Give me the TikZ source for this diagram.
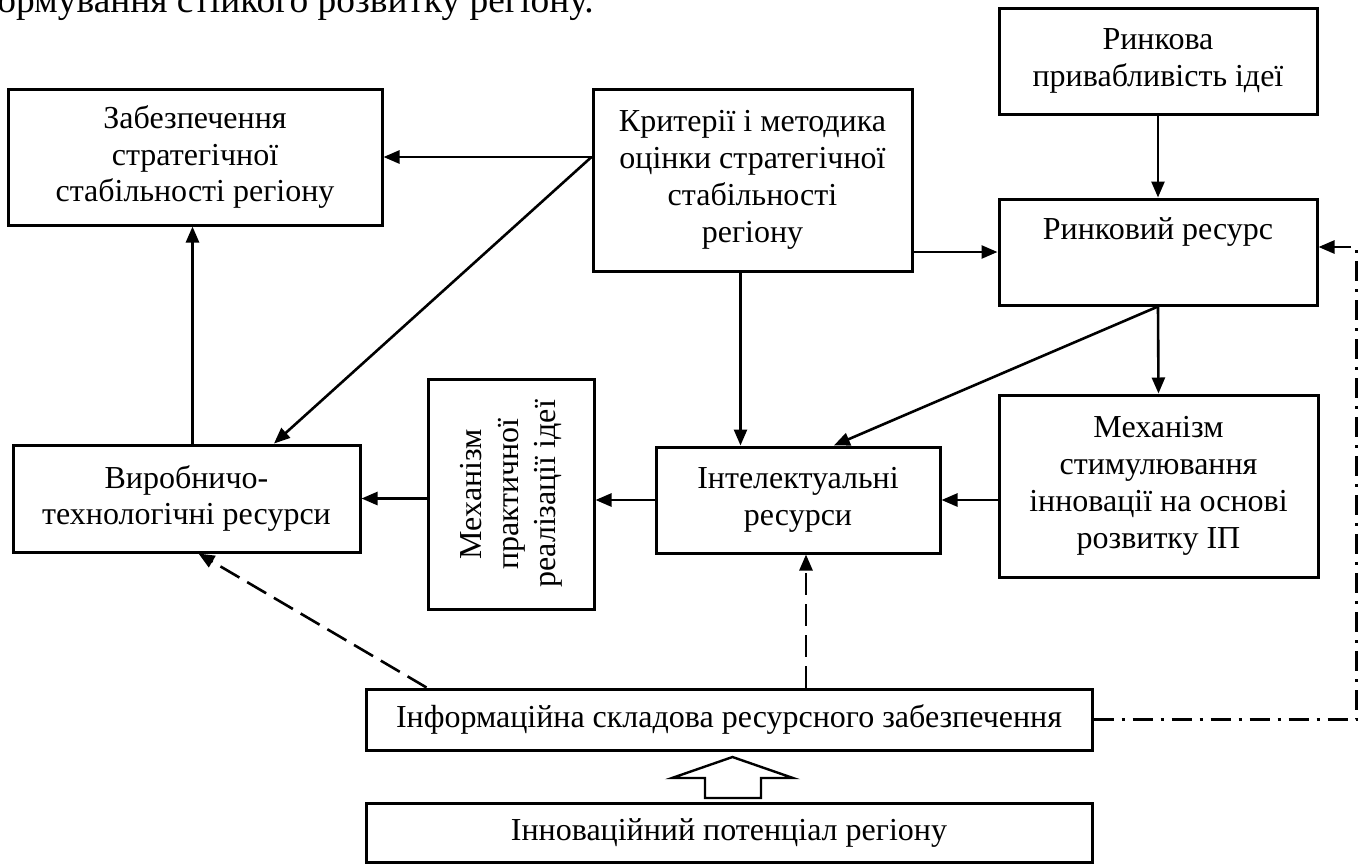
\documentclass[tikz,border=0pt]{standalone}
\usepackage{fontspec}
\setmainfont{Liberation Serif}
\usepackage{tikz}
\usetikzlibrary{arrows.meta,calc}

\tikzset{
  kasten/.style={draw, line width=1.5pt, align=center, inner sep=2pt},
  pfeil/.style={line width=1.3pt, -{Triangle[length=8pt,width=6.5pt]}},
  strich/.style={pfeil, dash pattern=on 11pt off 4.5pt},
  strichpunkt/.style={pfeil, dash pattern=on 10pt off 4pt on 1.5pt off 4pt},
}

\begin{document}
\begin{tikzpicture}[x=0.5pt, y=-0.5pt, font=\fontsize{16}{18.4}\selectfont]
        \useasboundingbox (0,0) rectangle (1362,864);

        % Textzeile oben (abgeschnitten)
        \node[anchor=base west, inner sep=0pt, font=\fontsize{18.7}{21.5}\selectfont] (kopf) at (-3,12.5) {ормування стійкого розвитку регіону.};

        % Kästen
        \node[kasten, minimum width=187pt, minimum height=68pt] (zab) at (195,157) {Забезпечення\\стратегічної\\стабільності регіону};
        \node[kasten, minimum width=159.5pt, minimum height=91pt] (kryt) at (752.5,180) {Критерії і методика\\оцінки стратегічної\\стабільності\\регіону};
        \node[kasten, minimum width=159pt, minimum height=53pt] (pryv) at (1158,61) {Ринкова\\привабливість ідеї};
        \node[kasten, minimum width=159pt, minimum height=53pt] (rynok) at (1158,252) {Ринковий ресурс\\\strut};
        \node[kasten, minimum width=173.5pt, minimum height=53.5pt] (vyrob) at (186.5,498.5) {Виробничо-\\технологічні ресурси};
        \node[kasten, minimum width=83pt, minimum height=115pt] (mprakt) at (511,494) {\rotatebox{90}{\begin{tabular}{@{}c@{}}Механізм\\практичної\\реалізації ідеї\end{tabular}}};
        \node[kasten, minimum width=142pt, minimum height=53pt] (intel) at (798,500) {Інтелектуальні\\ресурси};
        \node[kasten, minimum width=159.5pt, minimum height=91pt] (mstym) at (1158.5,486) {Механізм\\стимулювання\\інновації на основі\\розвитку ІП};
        \node[kasten, minimum width=363pt, minimum height=30.5pt] (info) at (729,719.5) {Інформаційна складова ресурсного забезпечення};
        \node[kasten, minimum width=363pt, minimum height=29.5pt] (innov) at (729,832.5) {Інноваційний потенціал регіону};

        % Verbindungen
        \draw[pfeil] (kryt.west |- zab.east) -- (zab.east);
        \draw[pfeil] (kryt.west |- zab.east) -- ($(vyrob.north)!0.5!(vyrob.north east)$);
        \draw[pfeil] ([xshift=3pt]vyrob.north) -- ([xshift=3pt]vyrob.north |- zab.south);
        \draw[pfeil] (kryt.east |- rynok.west) -- (rynok.west);
        \draw[pfeil] (pryv.south) -- (rynok.north);
        \draw[pfeil] ([xshift=-6pt]kryt.south) -- ([xshift=-6pt]kryt.south |- intel.north);
        \draw[pfeil] (rynok.south) -- (mstym.north);
        \draw[pfeil] (rynok.south) -- ($(intel.north)!0.25!(intel.north east)$);
        \draw[pfeil] (mstym.west |- intel.east) -- (intel.east);
        \draw[pfeil] (intel.west) -- (intel.west -| mprakt.east);
        \draw[pfeil] (mprakt.west |- vyrob.east) -- (vyrob.east);

        % Informationsflüsse
        \draw[strich] ([xshift=31pt]info.north west) -- ([xshift=6pt]vyrob.south);
        \draw[strich] ([xshift=4pt]info.north -| intel.south) -- ([xshift=4pt]intel.south);
        \draw[strichpunkt] (info.east) -- ++(263,0) |- ([yshift=2.5pt]rynok.east);

        % Blockpfeil
        \draw[line width=1.2pt] (705,798) -- (705,778) -- (672,778) -- (732.5,757) -- (793,778) -- (761,778) -- (761,798) -- cycle;
\end{tikzpicture}
\end{document}
